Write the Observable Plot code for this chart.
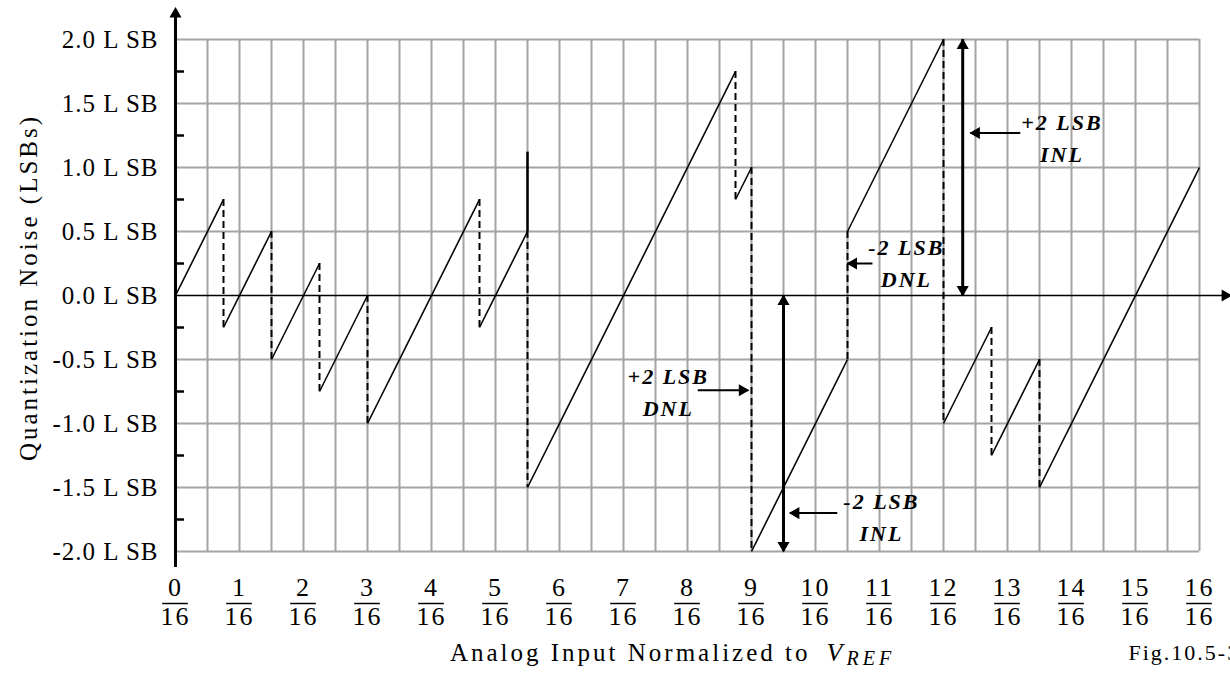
<!DOCTYPE html>
<html>
<head>
<meta charset="utf-8">
<script src="https://cdn.jsdelivr.net/npm/d3@7"></script>
<script src="https://cdn.jsdelivr.net/npm/@observablehq/plot@0.6"></script>
<style>
  html, body { margin: 0; padding: 0; background: #fff; }
  #chart svg text { letter-spacing: 2px; }
  #chart svg g[aria-label="y-axis tick label"] text { letter-spacing: 1px; }
</style>
</head>
<body>
<div id="chart"></div>
<script>
// ---------- axis / tick data ----------
const fracNumerators = [0, 1, 2, 3, 4, 5, 6, 7, 8, 9, 10, 11, 12, 13, 14, 15, 16];
const fracDenominator = "16";
const yTickValues = [-2, -1.5, -1, -0.5, 0, 0.5, 1, 1.5, 2];
const yMinorTicks = [-1.75, -1.25, -0.75, -0.25, 0.25, 0.75, 1.25, 1.75];
const gridXValues = [0.5, 1, 1.5, 2, 2.5, 3, 3.5, 4, 4.5, 5, 5.5, 6, 6.5, 7, 7.5, 8,
                     8.5, 9, 9.5, 10, 10.5, 11, 11.5, 12, 12.5, 13, 13.5, 14, 14.5, 15, 15.5, 16];
const gridYValues = [-2, -1.5, -1, -0.5, 0.5, 1, 1.5, 2];
const axisYBottom = -2.125, axisYTop = 2.2, axisXEnd = 16.4;

// ---------- texts ----------
const yTitle = "Quantization Noise (LSBs)";
const xTitle = "Analog Input Normalized to";
const xTitleVar = "V";
const xTitleSub = "REF";
const figLabel = "Fig.10.5-3";

// ---------- quantization-noise sawtooth (x in 1/16 units, y in LSB) ----------
const rampStartX = [0, 0.75, 1.5, 2.25, 3, 4.75, 5.5, 8.75, 9, 10.5, 12, 12.75, 13.5];
const rampStartY = [0, -0.25, -0.5, -0.75, -1, -0.25, -1.5, 0.75, -2, 0.5, -1, -1.25, -1.5];
const rampEndX   = [0.75, 1.5, 2.25, 3, 4.75, 5.5, 8.75, 9, 10.5, 12, 12.75, 13.5, 16];
const rampEndY   = [0.75, 0.5, 0.25, 0, 0.75, 0.5, 1.75, 1, -0.5, 2, -0.25, -0.5, 1];

const spikeX = [5.5], spikeFrom = [0.5], spikeTo = [1.12];

// ---------- INL double arrows ----------
const inlArrowX = [9.5, 12.3];
const inlArrowTop = [0, 2];
const inlArrowBottom = [-2, 0];

// ---------- pointer arrows + labels ----------
const pointerTailX = [8.16, 10.89, 13.2, 10.34];
const pointerTipX  = [8.95, 10.5, 12.42, 9.6];
const pointerY     = [-0.74, 0.25, 1.27, -1.70];
const labelText    = ["+2 LSB\nDNL", "-2 LSB\nDNL", "+2 LSB\nINL", "-2 LSB\nINL"];
const labelX       = [7.7, 11.42, 13.85, 11.03];
const labelY       = [-0.74, 0.27, 1.25, -1.715];

// ---------- build tables ----------
const ramps = rampStartX.map((x, i) => ({x1: x, y1: rampStartY[i], x2: rampEndX[i], y2: rampEndY[i]}));
const steps = rampEndX.slice(0, -1).map((x, i) => ({x, y1: rampEndY[i], y2: rampStartY[i + 1]}));
const spikes = spikeX.map((x, i) => ({x, y1: spikeFrom[i], y2: spikeTo[i]}));
const inl = inlArrowX.map((x, i) => ({x, top: inlArrowTop[i], bottom: inlArrowBottom[i]}));
const pointers = pointerTailX.map((t, i) => ({tail: t, tip: pointerTipX[i], y: pointerY[i]}));
const labels = labelText.map((t, i) => ({text: t, x: labelX[i], y: labelY[i]}));

const black = "#000";
const gray = "#a4a4a4";

const chart = Plot.plot({
  width: 1230,
  height: 677,
  marginLeft: 175,
  marginRight: 31,
  marginTop: 39,
  marginBottom: 126,
  x: {domain: [0, 16], axis: null},
  y: {domain: [-2, 2], axis: null},
  style: {fontFamily: "'Liberation Serif', 'Times New Roman', serif", fontSize: "25px", background: "#fff", color: "#000"},
  marks: [
    // grid
    Plot.ruleX(gridXValues, {stroke: gray, strokeWidth: 2}),
    Plot.ruleY(gridYValues, {stroke: gray, strokeWidth: 2}),
    // minor y ticks
    Plot.tickY(yMinorTicks, {stroke: black, strokeWidth: 2.5, insetRight: 1015}),
    // x axis line + arrow
    Plot.ruleY([0], {x1: () => 0, x2: () => axisXEnd, stroke: black, strokeWidth: 1.3}),
    Plot.dot([axisXEnd], {x: d => d, y: () => 0, symbol: "triangle", r: 4.5, fill: black, stroke: "none", rotate: 90}),
    // y axis line + arrow
    Plot.ruleX([0], {y1: () => axisYBottom, y2: () => axisYTop, stroke: black, strokeWidth: 3}),
    Plot.dot([axisYTop], {x: () => 0, y: d => d, symbol: "triangle", r: 4.5, fill: black, stroke: "none"}),
    // y tick labels
    Plot.axisY(yTickValues, {anchor: "left", tickSize: 0, tickPadding: 17, tickFormat: d => d.toFixed(1) + " L SB", fontSize: 25}),
    // x fraction tick labels
    Plot.text(fracNumerators, {x: d => d, text: d => String(d), frameAnchor: "bottom", dy: 44, fontSize: 26}),
    Plot.ruleY(fracNumerators, {y: () => -2, x1: d => d - 0.2, x2: d => d + 0.2, dy: 52, stroke: black, strokeWidth: 1.5}),
    Plot.text(fracNumerators, {x: d => d, text: () => fracDenominator, frameAnchor: "bottom", dy: 73, fontSize: 26}),
    // axis titles
    Plot.text([yTitle], {frameAnchor: "left", textAnchor: "middle", dx: -147, dy: -8, rotate: -90, fontSize: 25}),
    Plot.text([xTitle], {frameAnchor: "bottom", textAnchor: "end", dx: 123, dy: 109, fontSize: 25}),
    Plot.text([xTitleVar], {frameAnchor: "bottom", textAnchor: "start", dx: 139, dy: 109, fontSize: 26, fontStyle: "italic"}),
    Plot.text([xTitleSub], {frameAnchor: "bottom", textAnchor: "start", dx: 159, dy: 113, fontSize: 20, fontStyle: "italic"}),
    Plot.text([figLabel], {frameAnchor: "bottom", textAnchor: "start", dx: 441, dy: 108, fontSize: 22}),
    // sawtooth
    Plot.ruleX(steps, {x: "x", y1: "y1", y2: "y2", stroke: black, strokeWidth: 2, strokeDasharray: "7,4"}),
    Plot.link(ramps, {x1: "x1", y1: "y1", x2: "x2", y2: "y2", stroke: black, strokeWidth: 1.6}),
    Plot.ruleX(spikes, {x: "x", y1: "y1", y2: "y2", stroke: black, strokeWidth: 2.5}),
    // INL double arrows
    Plot.ruleX(inl, {x: "x", y1: "bottom", y2: "top", stroke: black, strokeWidth: 3}),
    Plot.dot(inl, {x: "x", y: "top", symbol: "triangle", r: 4.5, fill: black, stroke: "none", dy: 6}),
    Plot.dot(inl, {x: "x", y: "bottom", symbol: "triangle", r: 4.5, fill: black, stroke: "none", rotate: 180, dy: -6}),
    // pointer arrows
    Plot.link(pointers, {x1: "tail", x2: "tip", y1: "y", y2: "y", stroke: black, strokeWidth: 2}),
    Plot.dot(pointers.filter(p => p.tip < p.tail), {x: "tip", y: "y", symbol: "triangle", r: 4.5, fill: black, stroke: "none", rotate: -90, dx: 6}),
    Plot.dot(pointers.filter(p => p.tip > p.tail), {x: "tip", y: "y", symbol: "triangle", r: 4.5, fill: black, stroke: "none", rotate: 90, dx: -6}),
    // labels
    Plot.text(labels, {x: "x", y: "y", text: "text", fontSize: 22, fontStyle: "italic", fontWeight: "bold", lineHeight: 1.45})
  ]
});

// per-title letter spacing (the reference's wide bitmap font)
const spacing = new Map([[yTitle, "3px"], [xTitle, "3px"], [xTitleSub, "4px"]]);
d3.select(chart).selectAll("text").each(function () {
  const s = spacing.get(this.textContent);
  if (s) this.style.letterSpacing = s;
});
document.getElementById("chart").appendChild(chart);
</script>
</body>
</html>
